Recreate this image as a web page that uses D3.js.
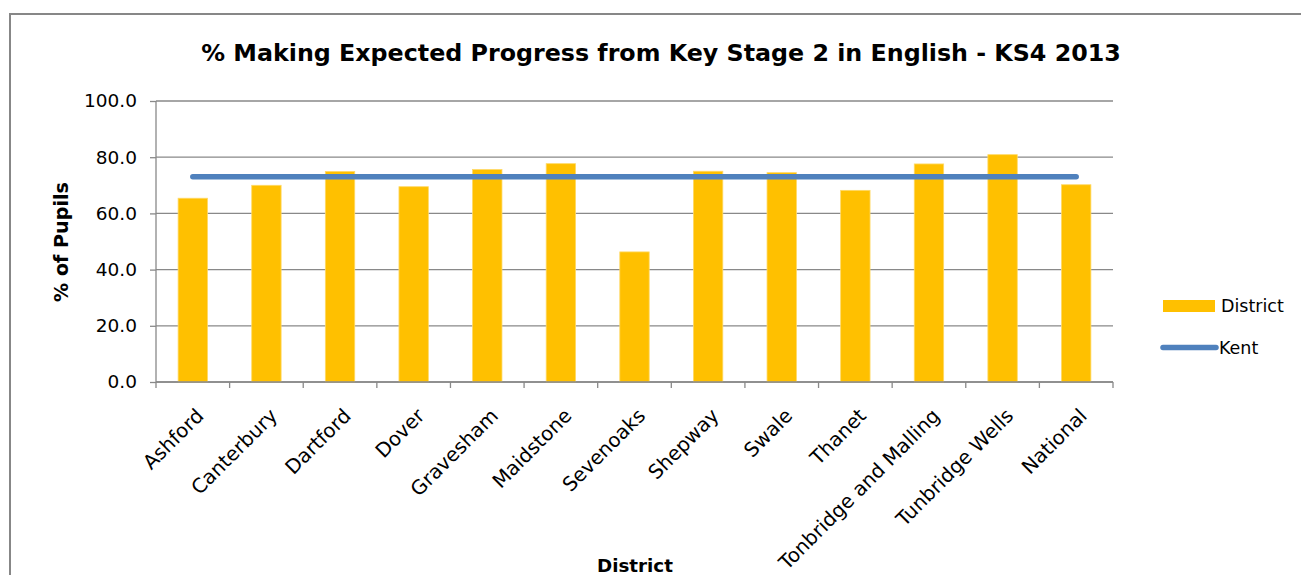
<!DOCTYPE html>
<html>
<head>
<meta charset="utf-8">
<script src="https://cdn.jsdelivr.net/npm/d3@7"></script>
<style>
  html, body { margin: 0; padding: 0; background: #fff; }
  svg { display: block; font-family: "DejaVu Sans", Verdana, sans-serif; }
</style>
</head>
<body>
<svg id="chart" width="1301" height="575"></svg>
<script>
const categories = ["Ashford", "Canterbury", "Dartford", "Dover", "Gravesham", "Maidstone", "Sevenoaks",
  "Shepway", "Swale", "Thanet", "Tonbridge and Malling", "Tunbridge Wells", "National"];
const districtValues = [65.4, 70.0, 74.9, 69.5, 75.6, 77.7, 46.3, 75.0, 74.5, 68.2, 77.6, 80.9, 70.2];
const kentValues = [73.0, 73.0, 73.0, 73.0, 73.0, 73.0, 73.0, 73.0, 73.0, 73.0, 73.0, 73.0, 73.0];
const yTicks = [0, 20, 40, 60, 80, 100];
const titleText = "% Making Expected Progress from Key Stage 2 in English - KS4 2013";
const yTitle = "% of Pupils";
const xTitle = "District";
const seriesNames = ["District", "Kent"];

const svg = d3.select("#chart");
const plot = { left: 156, right: 1113, top: 101, bottom: 382 };

// outer chart border
svg.append("rect").attr("x", 10).attr("y", 14).attr("width", 1310).attr("height", 600)
  .attr("fill", "none").attr("stroke", "#878787").attr("stroke-width", 2);

const xc = d3.scalePoint().domain(categories).range([plot.left, plot.right]).padding(0.5);
const y = d3.scaleLinear().domain([0, 100]).range([plot.bottom, plot.top]);

function fit(sel, target) {
  const w = sel.node().getComputedTextLength();
  const fs = parseFloat(sel.attr("font-size"));
  sel.attr("font-size", (fs * target / w).toFixed(2));
}

// gridlines
svg.append("g").selectAll("line").data(yTicks).join("line")
  .attr("x1", plot.left).attr("x2", plot.right)
  .attr("y1", d => y(d)).attr("y2", d => y(d))
  .attr("stroke", "#898989").attr("stroke-width", 1.3);

// y axis
const yAxis = svg.append("g").attr("transform", `translate(${plot.left},0)`)
  .call(d3.axisLeft(y).tickValues(yTicks).tickFormat(d3.format(".1f")).tickSize(6).tickPadding(13));
yAxis.select(".domain").attr("stroke", "#898989").attr("stroke-width", 1.3).attr("d", `M0,${plot.top}V${plot.bottom}`);
yAxis.selectAll(".tick line").attr("stroke", "#898989").attr("stroke-width", 1.3);
yAxis.selectAll(".tick text").attr("font-size", 18.5).attr("font-family", "DejaVu Sans").attr("fill", "#000");

// bars
svg.append("g").selectAll("rect").data(districtValues).join("rect")
  .attr("x", (d, i) => xc(categories[i]) - 14.7)
  .attr("width", 29.4)
  .attr("y", d => y(d))
  .attr("height", d => y(0) - y(d))
  .attr("fill", "#FFC000")
  .attr("stroke", "#FFD966").attr("stroke-width", 0.8);

// x axis
const xAxis = svg.append("g").attr("transform", `translate(0,${plot.bottom})`);
const tickPos = d3.range(categories.length + 1).map(i => plot.left + i * (plot.right - plot.left) / categories.length);
xAxis.append("line").attr("x1", plot.left).attr("x2", plot.right).attr("y1", 0).attr("y2", 0)
  .attr("stroke", "#898989").attr("stroke-width", 1.5);
xAxis.selectAll("line.tk").data(tickPos).join("line").attr("class", "tk")
  .attr("x1", d => d).attr("x2", d => d).attr("y1", 0).attr("y2", 6)
  .attr("stroke", "#898989").attr("stroke-width", 1.3);

// x labels
svg.append("g").selectAll("text").data(categories).join("text")
  .attr("transform", d => `translate(${xc(d) + 12},${417}) rotate(-45)`)
  .attr("text-anchor", "end")
  .attr("font-size", 19.8)
  .attr("fill", "#000")
  .text(d => d);

// Kent line
const line = d3.line().x((d, i) => xc(categories[i])).y(d => y(d));
svg.append("path").datum(kentValues).attr("d", line)
  .attr("fill", "none").attr("stroke", "#4F81BD").attr("stroke-width", 5.5).attr("stroke-linecap", "round");

// title
const t = svg.append("text").attr("x", 661).attr("y", 61).attr("text-anchor", "middle")
  .attr("font-weight", "bold").attr("font-size", 22).attr("fill", "#000").text(titleText);
fit(t, 920);

// y title
const yt = svg.append("text").attr("transform", "translate(68,242) rotate(-90)").attr("text-anchor", "middle")
  .attr("font-weight", "bold").attr("font-size", 17).attr("fill", "#000").text(yTitle);
fit(yt, 120);

// x title
const xt = svg.append("text").attr("x", 635).attr("y", 572).attr("text-anchor", "middle")
  .attr("font-weight", "bold").attr("font-size", 17).attr("fill", "#000").text(xTitle);
fit(xt, 76);

// legend
const lg = svg.append("g");
lg.append("rect").attr("x", 1163).attr("y", 300).attr("width", 52).attr("height", 12).attr("fill", "#FFC000");
lg.append("text").attr("x", 1221).attr("y", 312).attr("font-size", 17.5).attr("fill", "#000").text(seriesNames[0]);
lg.append("line").attr("x1", 1163).attr("x2", 1216).attr("y1", 347.5).attr("y2", 347.5)
  .attr("stroke", "#4F81BD").attr("stroke-width", 5.5).attr("stroke-linecap", "round");
lg.append("text").attr("x", 1219).attr("y", 354).attr("font-size", 17.5).attr("fill", "#000").text(seriesNames[1]);
</script>
</body>
</html>
